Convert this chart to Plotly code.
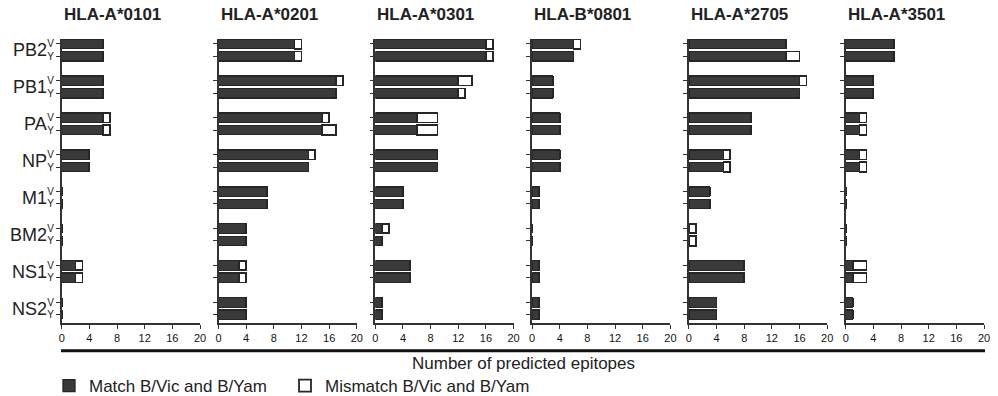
import plotly.graph_objects as go

proteins = ["PB2", "PB1", "PA", "NP", "M1", "BM2", "NS1", "NS2"]
lineages = ["V", "Y"]
alleles = ["HLA-A*0101", "HLA-A*0201", "HLA-A*0301", "HLA-B*0801", "HLA-A*2705", "HLA-A*3501"]

# values ordered PB2 V, PB2 Y, PB1 V, PB1 Y, ...
match_A0101 = [6, 6, 6, 6, 6, 6, 4, 4, 0, 0, 0, 0, 2, 2, 0, 0]
mismatch_A0101 = [0, 0, 0, 0, 1, 1, 0, 0, 0, 0, 0, 0, 1, 1, 0, 0]
match_A0201 = [11, 11, 17, 17, 15, 15, 13, 13, 7, 7, 4, 4, 3, 3, 4, 4]
mismatch_A0201 = [1, 1, 1, 0, 1, 2, 1, 0, 0, 0, 0, 0, 1, 1, 0, 0]
match_A0301 = [16, 16, 12, 12, 6, 6, 9, 9, 4, 4, 1, 1, 5, 5, 1, 1]
mismatch_A0301 = [1, 1, 2, 1, 3, 3, 0, 0, 0, 0, 1, 0, 0, 0, 0, 0]
match_B0801 = [6, 6, 3, 3, 4, 4, 4, 4, 1, 1, 0, 0, 1, 1, 1, 1]
mismatch_B0801 = [1, 0, 0, 0, 0, 0, 0, 0, 0, 0, 0, 0, 0, 0, 0, 0]
match_A2705 = [14, 14, 16, 16, 9, 9, 5, 5, 3, 3, 0, 0, 8, 8, 4, 4]
mismatch_A2705 = [0, 2, 1, 0, 0, 0, 1, 1, 0, 0, 1, 1, 0, 0, 0, 0]
match_A3501 = [7, 7, 4, 4, 2, 2, 2, 2, 0, 0, 0, 0, 1, 1, 1, 1]
mismatch_A3501 = [0, 0, 0, 0, 1, 1, 1, 1, 0, 0, 0, 0, 2, 2, 0, 0]

match_all = [match_A0101, match_A0201, match_A0301, match_B0801, match_A2705, match_A3501]
mismatch_all = [mismatch_A0101, mismatch_A0201, mismatch_A0301, mismatch_B0801, mismatch_A2705, mismatch_A3501]

x_ticks = [0, 4, 8, 12, 16, 20]

FONT = "Liberation Sans, Arial, sans-serif"
DARK = "#3a3a3a"
EDGE = "#262626"

# row positions: V at 3i, Y at 3i+1
ypos = [3 * i + j for i in range(len(proteins)) for j in range(len(lineages))]
ytext = [lin for _ in proteins for lin in lineages]

W, H = 998, 396
ML, MR, MT, MB = 61, 13, 39, 73
PW = W - ML - MR
PH = H - MT - MB

fig = go.Figure()
for k, allele in enumerate(alleles):
    sfx = "" if k == 0 else str(k + 1)
    fig.add_trace(go.Bar(
        x=match_all[k], y=ypos, orientation="h", width=0.77,
        marker=dict(color=DARK, line=dict(color=EDGE, width=1.3)),
        name="Match B/Vic and B/Yam", legend="legend", showlegend=(k == 0),
        xaxis="x" + sfx, yaxis="y" + sfx,
    ))
    fig.add_trace(go.Bar(
        x=mismatch_all[k], y=ypos, orientation="h", width=0.77,
        marker=dict(color="white", line=dict(color=EDGE, width=1.8)),
        name="Mismatch B/Vic and B/Yam", legend="legend2", showlegend=(k == 0),
        xaxis="x" + sfx, yaxis="y" + sfx,
    ))

legend_common = dict(orientation="h", xanchor="left",
                     y=(PH - (386 - MT)) / PH, yanchor="middle",
                     font=dict(size=17, family=FONT, color="#222"),
                     itemwidth=30, bgcolor="rgba(0,0,0,0)")

layout = dict(
    width=W, height=H, barmode="stack",
    margin=dict(l=ML, r=MR, t=MT, b=MB, autoexpand=False),
    paper_bgcolor="white", plot_bgcolor="white",
    font=dict(family=FONT, color="#222"),
    legend=dict(x=(49 - ML) / PW, **legend_common),
    legend2=dict(x=(285 - ML) / PW, **legend_common),
)

annotations = []
for k, allele in enumerate(alleles):
    sfx = "" if k == 0 else str(k + 1)
    start = (0.7 + 156.8 * k) / PW
    end = (0.7 + 156.8 * k + 138.3) / PW
    layout["xaxis" + sfx] = dict(
        domain=[start, end], range=[0, 20], anchor="y" + sfx,
        tickvals=x_ticks, ticks="outside", ticklen=4, tickwidth=1.2, tickcolor="#333",
        showline=True, linecolor="#333", linewidth=1.5, showgrid=False, zeroline=False,
        tickfont=dict(size=11, family=FONT, color="#111"), fixedrange=True,
    )
    layout["yaxis" + sfx] = dict(
        domain=[0, 1], range=[22.67, -0.4], anchor="x" + sfx,
        tickvals=ypos, ticktext=ytext, showticklabels=(k == 0),
        ticks="outside", ticklen=4, tickwidth=1.2, tickcolor="#333",
        showline=True, linecolor="#333", linewidth=1.5, showgrid=False, zeroline=False,
        tickfont=dict(size=10, family=FONT, color="#222"), fixedrange=True,
    )
    annotations.append(dict(
        text="<b>" + allele + "</b>", xref="x" + sfx + " domain", yref="paper",
        x=0, y=(PH - (15 - MT)) / PH, xanchor="left", yanchor="middle", showarrow=False,
        font=dict(size=17, family=FONT, color="#222"),
    ))

for i, p in enumerate(proteins):
    annotations.append(dict(
        text=p, xref="paper", yref="y", x=(49 - ML) / PW, y=3 * i + 0.5,
        xanchor="right", yanchor="middle", showarrow=False,
        font=dict(size=18, family=FONT, color="#222"),
    ))

annotations.append(dict(
    text="Number of predicted epitopes", xref="paper", yref="paper",
    x=(523 - ML) / PW, y=(PH - (363 - MT)) / PH, xanchor="center", yanchor="middle",
    showarrow=False, font=dict(size=17, family=FONT, color="#222"),
))

layout["annotations"] = annotations
layout["shapes"] = [dict(
    type="line", xref="paper", yref="paper",
    x0=0, x1=1, y0=(PH - (350.7 - MT)) / PH, y1=(PH - (350.7 - MT)) / PH,
    line=dict(color="#111", width=3),
)]

fig.update_layout(**layout)
fig.write_html("out.html", config={"displayModeBar": False},
               post_script="document.body.style.margin='0';document.body.style.overflow='hidden';")
